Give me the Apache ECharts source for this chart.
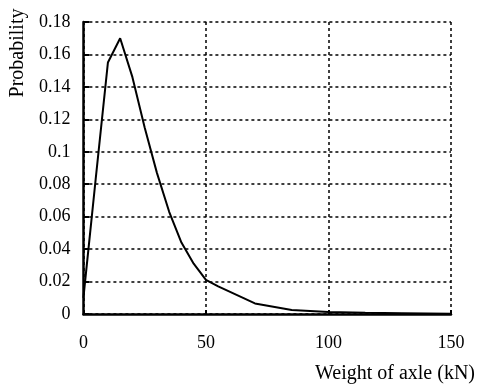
<!DOCTYPE html>
<html>
<head>
<meta charset="utf-8">
<script src="https://cdn.jsdelivr.net/npm/echarts@6/dist/echarts.min.js"></script>
<style>
html,body{margin:0;padding:0;background:#fff;}
#chart{width:478px;height:390px;}
</style>
</head>
<body>
<div id="chart"></div>
<script>
// Data
var axleWeights = [0, 5, 10, 15, 20, 25, 30, 35, 40, 45, 50, 55, 70, 85, 100, 115, 130, 150];
var probabilities = [0.01, 0.083, 0.155, 0.17, 0.146, 0.115, 0.087, 0.063, 0.044, 0.031, 0.021, 0.017, 0.0065, 0.0025, 0.0012, 0.0008, 0.0005, 0.0002];
var xTitle = 'Weight of axle (kN)';
var yTitle = 'Probability';

var points = axleWeights.map(function (x, i) { return [x, probabilities[i]]; });
var font = 'Liberation Serif';
var dotted = { color: '#000', width: 1.5, type: [3, 3] };

var chart = echarts.init(document.getElementById('chart'), null, { renderer: 'canvas' });
chart.setOption({
  backgroundColor: '#fff',
  animation: false,
  grid: { left: 82, right: 25, top: 22, bottom: 76, containLabel: false },
  xAxis: {
    type: 'value', min: 0, max: 150, interval: 50,
    name: xTitle, nameLocation: 'end', nameGap: 24,
    nameTextStyle: { fontFamily: font, fontSize: 20, color: '#000', align: 'right', verticalAlign: 'top', padding: [50, 0, 0, 0] },
    axisLine: { show: true, onZero: false, lineStyle: { color: '#000', width: 2.5 } },
    axisTick: { show: true, inside: true, length: 4, lineStyle: { color: '#000', width: 2 } },
    axisLabel: { fontFamily: font, fontSize: 18, color: '#000', margin: 20 },
    splitLine: { show: true, lineStyle: dotted }
  },
  yAxis: {
    type: 'value', min: 0, max: 0.18, interval: 0.02,
    name: yTitle, nameLocation: 'middle', nameGap: 55, nameRotate: 90,
    nameTextStyle: { fontFamily: font, fontSize: 20, color: '#000', padding: [0, 0, 0, 230] },
    axisLine: { show: true, lineStyle: { color: '#000', width: 2.5 } },
    axisTick: { show: true, inside: true, length: 6, lineStyle: { color: '#000', width: 2 } },
    axisLabel: { fontFamily: font, fontSize: 18, color: '#000', margin: 13 },
    splitLine: { show: true, lineStyle: dotted }
  },
  series: [{
    type: 'line', data: points, showSymbol: false, smooth: false,
    lineStyle: { color: '#000', width: 2 }, z: 5
  }]
});
</script>
</body>
</html>
